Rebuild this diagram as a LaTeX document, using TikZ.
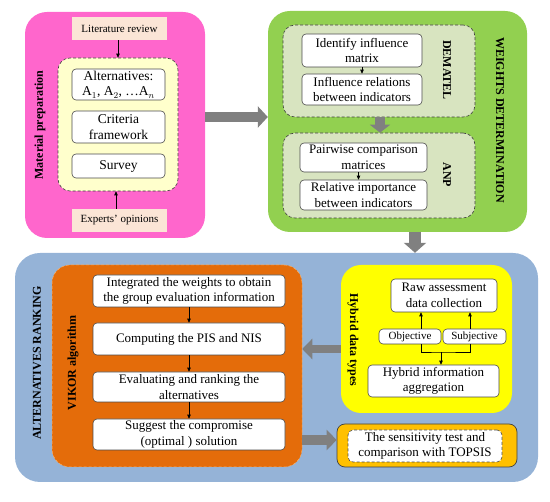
\documentclass[tikz,border=0pt]{standalone}
\usepackage{fontspec}
\setmainfont{Liberation Serif}
\usetikzlibrary{arrows.meta}
\definecolor{cpink}{HTML}{FF66CC}
\definecolor{cpeach}{HTML}{FBE5D6}
\definecolor{cpaley}{HTML}{FFFFCC}
\definecolor{cgreen}{HTML}{92D050}
\definecolor{clgreen}{HTML}{D8E4C0}
\definecolor{cblue}{HTML}{95B3D7}
\definecolor{corange}{HTML}{E46C0A}
\definecolor{cyellow}{HTML}{FFFF00}
\definecolor{cgold}{HTML}{FFC000}
\definecolor{cgray}{HTML}{808080}
\tikzset{
  panel/.style={rounded corners=22pt, inner sep=0pt},
  dashbox/.style={draw=black!75, densely dashed, line width=0.6pt, rounded corners=12pt, inner sep=0pt},
  wbox/.style={draw=black!70, fill=white, rounded corners=4pt, line width=0.6pt, align=center, inner sep=0pt, font=\fontsize{13}{15.5}\selectfont},
  pbox/.style={fill=cpeach, align=center, inner sep=0pt, font=\fontsize{11}{13}\selectfont},
  lab/.style={font=\bfseries\fontsize{12}{14}\selectfont},
  small/.style={-{Triangle[length=4pt,width=3.5pt]}, line width=0.7pt, black},
  bigarrow/.style={cgray, line width=#1, -{Triangle[length=10pt,width=21pt]}},
  bigarrow/.default=10pt
}
\begin{document}
\begin{tikzpicture}[x=1pt,y=-1pt]
\useasboundingbox (0,0) rectangle (550,502);
% Material preparation
\node[panel, fill=cpink, minimum width=180pt, minimum height=226pt] (pink) at (115,125) {};
\node[pbox, minimum width=95pt, minimum height=23pt] (lit) at (119.5,28.5) {Literature review};
\node[dashbox, fill=cpaley, minimum width=120pt, minimum height=133pt] (mat) at (118,124.5) {};
\node[wbox, font=\fontsize{13.5}{15.5}\selectfont, minimum width=93pt, minimum height=31pt] (alt) at (118.5,84.5) {Alternatives:\\A$_1$, A$_2$, \ldots A$_n$};
\node[wbox, font=\fontsize{13.5}{15.5}\selectfont, minimum width=93pt, minimum height=32pt] (crit) at (118.5,127) {Criteria\\framework};
\node[wbox, font=\fontsize{13.5}{15.5}\selectfont, minimum width=93pt, minimum height=24pt] (surv) at (118.5,166) {Survey};
\node[pbox, minimum width=95pt, minimum height=23pt] (exp) at (119.5,220.5) {Experts’ opinions};
\node[lab, rotate=90] (matlab) at (40,125) {Material preparation};
\draw[small] ([xshift=-1.5pt]lit.south) -- ([xshift=-1.5pt]lit.south |- mat.north);
\draw[small] ([xshift=-3.5pt]exp.north) -- ([xshift=-3.5pt]exp.north |- mat.south);
% Weights determination
\node[panel, fill=cgreen, minimum width=259pt, minimum height=221pt] (green) at (397.5,121.5) {};
\node[dashbox, fill=clgreen, minimum width=192pt, minimum height=92pt] (dem) at (379,71) {};
\node[wbox, minimum width=120pt, minimum height=33pt] (ident) at (362,50.5) {Identify influence\\matrix};
\node[wbox, minimum width=120pt, minimum height=31pt] (infl) at (362,89.5) {Influence relations\\between indicators};
\node[dashbox, fill=clgreen, minimum width=192pt, minimum height=85pt] (anp) at (379,175.5) {};
\node[wbox, minimum width=127pt, minimum height=29pt] (pair) at (363.5,157.5) {Pairwise comparison\\matrices};
\node[wbox, minimum width=127pt, minimum height=30pt] (rel) at (363.5,195) {Relative importance\\between indicators};
\node[lab, rotate=-90] (demlab) at (447,70) {DEMATEL};
\node[lab, rotate=-90] (anplab) at (447,175) {ANP};
\node[lab, rotate=-90] (wlab) at (500,120) {WEIGHTS DETERMINATION};
\draw[small] (ident) -- (infl);
\draw[small] ([xshift=-5pt]pair.south) -- ([xshift=-5pt]rel.north);
% Alternatives ranking
\node[panel, rounded corners=25pt, fill=cblue, minimum width=523pt, minimum height=229pt] (blue) at (276.5,367.5) {};
\node[panel, rounded corners=18pt, fill=corange, draw=orange!60, densely dashed, line width=0.5pt, minimum width=250pt, minimum height=202pt] (vik) at (177,366) {};
\node[wbox, minimum width=192pt, minimum height=32pt] (v1) at (189,291) {Integrated the weights to obtain\\the group evaluation information};
\node[wbox, minimum width=192pt, minimum height=32pt] (v2) at (189,339) {Computing the PIS and NIS};
\node[wbox, minimum width=192pt, minimum height=30pt] (v3) at (189,387) {Evaluating and ranking the\\alternatives};
\node[wbox, minimum width=192pt, minimum height=31pt] (v4) at (189,434.5) {Suggest the compromise\\(optimal ) solution};
\node[lab, rotate=90] (altlab) at (37,363) {ALTERNATIVES RANKING};
\node[lab, rotate=90] (viklab) at (73,363) {VIKOR algorithm};
\draw[small] (v1) -- (v2);
\draw[small] (v2) -- (v3);
\draw[small] (v3) -- (v4);
% Hybrid data types
\node[panel, rounded corners=20pt, fill=cyellow, minimum width=171pt, minimum height=148pt] (yel) at (426.5,339) {};
\node[wbox, font=\fontsize{13}{15.5}\selectfont, minimum width=106pt, minimum height=33pt] (raw) at (444,295.5) {Raw assessment\\data collection};
\node[wbox, font=\fontsize{11}{12}\selectfont, minimum width=62pt, minimum height=15pt] (obj) at (410,336.5) {Objective};
\node[wbox, font=\fontsize{11}{12}\selectfont, minimum width=63pt, minimum height=15pt] (subj) at (474.5,336.5) {Subjective};
\node[wbox, font=\fontsize{13}{15.5}\selectfont, minimum width=131pt, minimum height=32pt] (hyb) at (433.5,381) {Hybrid information\\aggregation};
\node[lab, rotate=-90] (hyblab) at (353,340) {Hybrid data types};
\coordinate (jn) at (441,352);
\draw[small] ([xshift=11pt]obj.north) -- ([xshift=11pt]obj.north |- raw.south);
\draw[small] ([xshift=-4.5pt]subj.north) -- ([xshift=-4.5pt]subj.north |- raw.south);
\draw[line width=0.7pt] ([xshift=11pt]obj.south) |- (jn) -| ([xshift=-4.5pt]subj.south);
\draw[small] (jn) -- (jn |- hyb.north);
% Sensitivity
\node[panel, rounded corners=8pt, fill=cgold, draw=black!75, line width=0.7pt, minimum width=180pt, minimum height=43pt] (sens) at (427,445.5) {};
\node[wbox, densely dashed, rounded corners=5pt, font=\fontsize{13}{15.5}\selectfont, minimum width=154pt, minimum height=32pt] (senst) at (425,446) {The sensitivity test and\\comparison with TOPSIS};
% big gray arrows
\draw[bigarrow] (pink.east |- 0,117) -- (green.west |- 0,117);
\draw[bigarrow, -{Triangle[length=8pt,width=20pt]}] (dem.south -| 380,0) -- (anp.north -| 380,0);
\draw[bigarrow=12pt, -{Triangle[length=10pt,width=22pt]}] (green.south -| 415,0) -- (blue.north -| 415,0);
\draw[bigarrow=8pt, -{Triangle[length=10pt,width=20pt]}] (yel.west |- 0,349) -- (vik.east |- 0,349);
\draw[bigarrow, -{Triangle[length=10pt,width=20pt]}] (vik.east |- 0,440) -- (sens.west |- 0,440);
\end{tikzpicture}
\end{document}
